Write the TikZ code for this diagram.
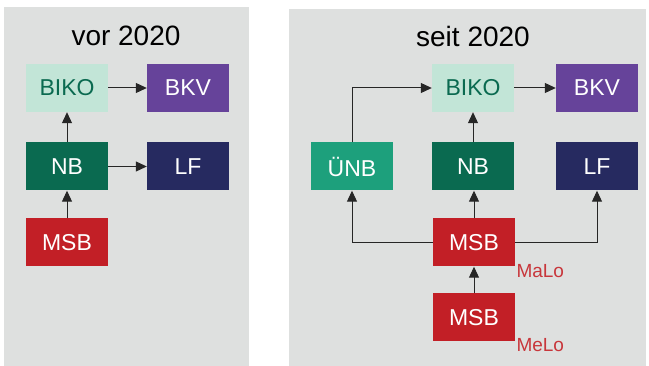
\documentclass[tikz,border=0pt]{standalone}
\usepackage{fontspec}
\setmainfont{Liberation Sans}
\usetikzlibrary{arrows.meta,positioning}
\definecolor{panel}{RGB}{222,224,223}
\definecolor{mint}{RGB}{194,229,215}
\definecolor{deepgreen}{RGB}{10,106,80}
\definecolor{tealgreen}{RGB}{29,160,124}
\definecolor{violet}{RGB}{102,67,154}
\definecolor{navy}{RGB}{38,42,96}
\definecolor{signal}{RGB}{194,31,38}
\definecolor{loclabel}{RGB}{200,54,59}
\tikzset{
  actor/.style={minimum width=82pt, minimum height=48pt, inner sep=0pt,
                font=\fontsize{23}{23}\selectfont, text=white},
  title/.style={font=\fontsize{28}{28}\selectfont, anchor=base},
  loc/.style={font=\fontsize{19}{19}\selectfont, text=loclabel, anchor=base west},
  flow/.style={-{Triangle[length=11pt,width=10pt]}, line width=1pt, black!85},
}

\begin{document}
\begin{tikzpicture}[x=1pt,y=-1pt]
    \useasboundingbox (0,0) rectangle (649,366);
    \fill[white] (0,0) rectangle (649,366);
    \fill[panel] (4,7) rectangle (249,366);
    \fill[panel] (289,9) rectangle (646,366);
    % vor 2020
    \node[title] (titleA) at (126,46) {vor 2020};
    \node[actor, fill=mint, text=deepgreen] (bikoA) at (67,88) {BIKO};
    \node[actor, fill=violet] (bkvA) at (188,88) {BKV};
    \node[actor, fill=deepgreen] (nbA) at (67,166.5) {NB};
    \node[actor, fill=navy] (lfA) at (188,166.5) {LF};
    \node[actor, fill=signal] (msbA) at (67,242.5) {MSB};
    \draw[flow] (bikoA) -- (bkvA);
    \draw[flow] (nbA) -- (lfA);
    \draw[flow] (nbA) -- (bikoA);
    \draw[flow] (msbA) -- (nbA);
    % seit 2020
    \node[title] (titleB) at (473,46.5) {seit 2020};
    \node[actor, fill=mint, text=deepgreen] (biko) at (473,88) {BIKO};
    \node[actor, fill=violet] (bkv) at (597,88) {BKV};
    \node[actor, fill=tealgreen] (unb) at (352,166.5) {ÜNB};
    \node[actor, fill=deepgreen] (nb) at (473,166.5) {NB};
    \node[actor, fill=navy] (lf) at (597,166.5) {LF};
    \node[actor, fill=signal] (msb) at (474,242.5) {MSB};
    \node[actor, fill=signal] (msbMelo) at (474,317.5) {MSB};
    \node[loc] (malo) at (513,278) {MaLo};
    \node[loc] (melo) at (513,352) {MeLo};
    \draw[flow] (biko) -- (bkv);
    \draw[flow] (nb) -- (biko);
    \draw[flow] (unb.north) |- (biko.west);
    \draw[flow] (msb.west) -| (unb.south);
    \draw[flow] (msb.east) -| (lf.south);
    \draw[flow] (msb.north) -- (nb.south -| msb.north);
    \draw[flow] (msbMelo) -- (msb);
\end{tikzpicture}
\end{document}
